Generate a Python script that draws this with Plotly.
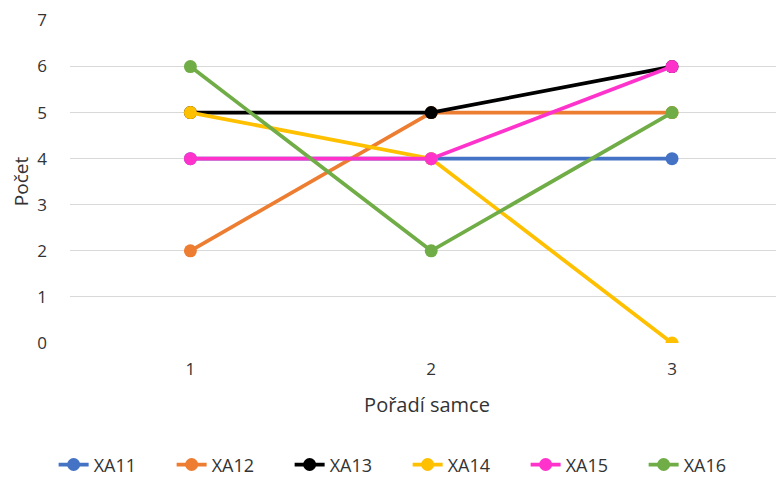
import plotly.graph_objects as go

x_vals = [1, 2, 3]
series_names = ["XA11", "XA12", "XA13", "XA14", "XA15", "XA16"]
xa11 = [4, 4, 4]
xa12 = [2, 5, 5]
xa13 = [5, 5, 6]
xa14 = [5, 4, 0]
xa15 = [4, 4, 6]
xa16 = [6, 2, 5]
colors = ["#4472C4", "#ED7D31", "#000000", "#FFC000", "#FF33CC", "#70AD47"]

fig = go.Figure()
for name, ys, c in zip(series_names, [xa11, xa12, xa13, xa14, xa15, xa16], colors):
    fig.add_trace(go.Scatter(x=x_vals, y=ys, name=name, mode="lines+markers",
                             line=dict(color=c, width=3.75),
                             marker=dict(color=c, size=13)))

font = "Open Sans"
txt = "#333333"
fig.update_layout(
    width=776, height=469,
    margin=dict(l=62, r=0, t=12, b=134),
    plot_bgcolor="white", paper_bgcolor="white",
    font=dict(family=font, size=17, color=txt),
    showlegend=True,
    legend=dict(orientation="h", xref="container", yref="container",
                x=0.515, xanchor="center", y=0.026, yanchor="middle",
                font=dict(size=18, color=txt), entrywidth=73),
)
fig.update_xaxes(range=[0.5, 3.465], tickvals=x_vals, ticktext=["1", "2", "3"],
                 showgrid=False, zeroline=False, showline=False, ticks="",
                 ticklabelstandoff=14,
                 title=dict(text="Pořadí samce", font=dict(size=20, color=txt), standoff=18),
                 tickfont=dict(size=17, color=txt))
fig.update_yaxes(range=[0, 7.01], dtick=1, showgrid=True, gridcolor="#D9D9D9", gridwidth=1,
                 zeroline=False, showline=False, ticks="",
                 title=dict(text="Počet", font=dict(size=19, color=txt), standoff=8),
                 tickfont=dict(size=17, color=txt), ticklabelstandoff=22)
fig.write_html("out.html")
